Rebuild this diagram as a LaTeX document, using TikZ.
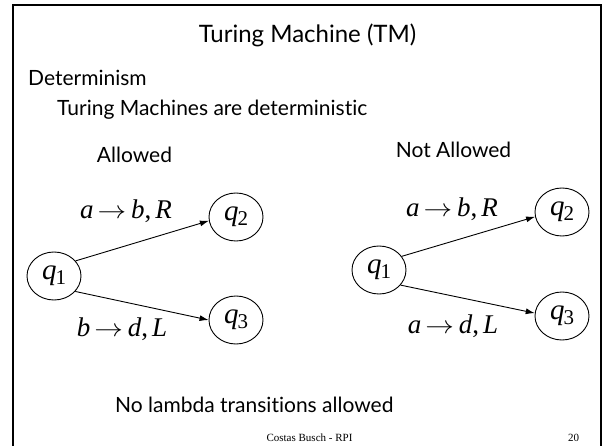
\documentclass[tikz,border=0pt]{standalone}
\usepackage{fontspec}
\usepackage{graphicx}
\setmainfont{Lato}[Ligatures=NoCommon]
\newfontfamily\tnr{Liberation Serif}
\usetikzlibrary{arrows.meta,shapes.geometric}

% state name: italic q with a large, lowered index
\newcommand{\qst}[1]{{\tnr\fontsize{29}{29}\selectfont\itshape q\kern-1pt\upshape\raisebox{-5pt}{\fontsize{21}{21}\selectfont #1}}}
% transition label  x -> y, D
\newcommand{\trl}[3]{{\tnr\itshape #1}\kern4pt\scalebox{1.15}[1]{$\rightarrow$}\kern5pt{\tnr\itshape #2}{\tnr ,}\kern4pt{\tnr\itshape #3}}

\begin{document}
\begin{tikzpicture}[x=1pt,y=-1pt,
  state/.style={ellipse,draw,line width=0.9pt,minimum width=54pt,minimum height=48pt,inner sep=0pt},
  trans/.style={line width=0.9pt,-{Latex[length=9pt,width=6pt]}},
  body/.style={font=\fontsize{21}{25}\selectfont,inner sep=0pt},
  lbl/.style={font=\tnr\fontsize{27}{31}\selectfont,inner sep=0pt},
]
\useasboundingbox (0,0) rectangle (602,446);
\fill[white] (0,0) rectangle (602,446);
\draw[line width=2pt] (13,447) -- (13,5) -- (600.5,5) -- (600.5,447);

% headings
\node[font=\fontsize{24}{28}\selectfont, anchor=base, inner sep=0pt] (title) at (307.5,43) {Turing Machine (TM)};
\node[body, anchor=base west] (det) at (28,86) {Determinism};
\node[body, anchor=base west] (tmdet) at (57,116) {Turing Machines are deterministic};
\node[body, anchor=base] (allowed) at (134.5,163) {Allowed};
\node[body, anchor=base] (notallowed) at (453.5,158) {Not Allowed};

% allowed machine
\node[state] (a1) at (54,276) {\qst{1}};
\node[state] (a2) at (236,217) {\qst{2}};
\node[state] (a3) at (236,320) {\qst{3}};
\draw[trans] (a1.35) -- (a2.188);
\draw[trans] (a1.-36) -- (a3.180);
\node[lbl] (la1) at (126,211) {\trl{a}{b}{R}};
\node[lbl] (la2) at (122,329) {\trl{b}{d}{L}};

% machine that is not allowed
\node[state] (n1) at (379,270) {\qst{1}};
\node[state] (n2) at (562,212) {\qst{2}};
\node[state] (n3) at (562,316) {\qst{3}};
\draw[trans] (n1.31) -- (n2.190);
\draw[trans] (n1.-35) -- (n3.174);
\node[lbl] (ln1) at (452,209) {\trl{a}{b}{R}};
\node[lbl] (ln2) at (453,326) {\trl{a}{d}{L}};

% closing remark and footer
\node[body, anchor=base west] (nolambda) at (115,412) {No lambda transitions allowed};
\node[font=\tnr\fontsize{11}{13}\selectfont, anchor=base, inner sep=0pt] (footer) at (309.5,441) {Costas Busch - RPI};
\node[font=\tnr\fontsize{11}{13}\selectfont, anchor=base, inner sep=0pt] (pageno) at (573.5,441) {20};
\end{tikzpicture}
\end{document}
